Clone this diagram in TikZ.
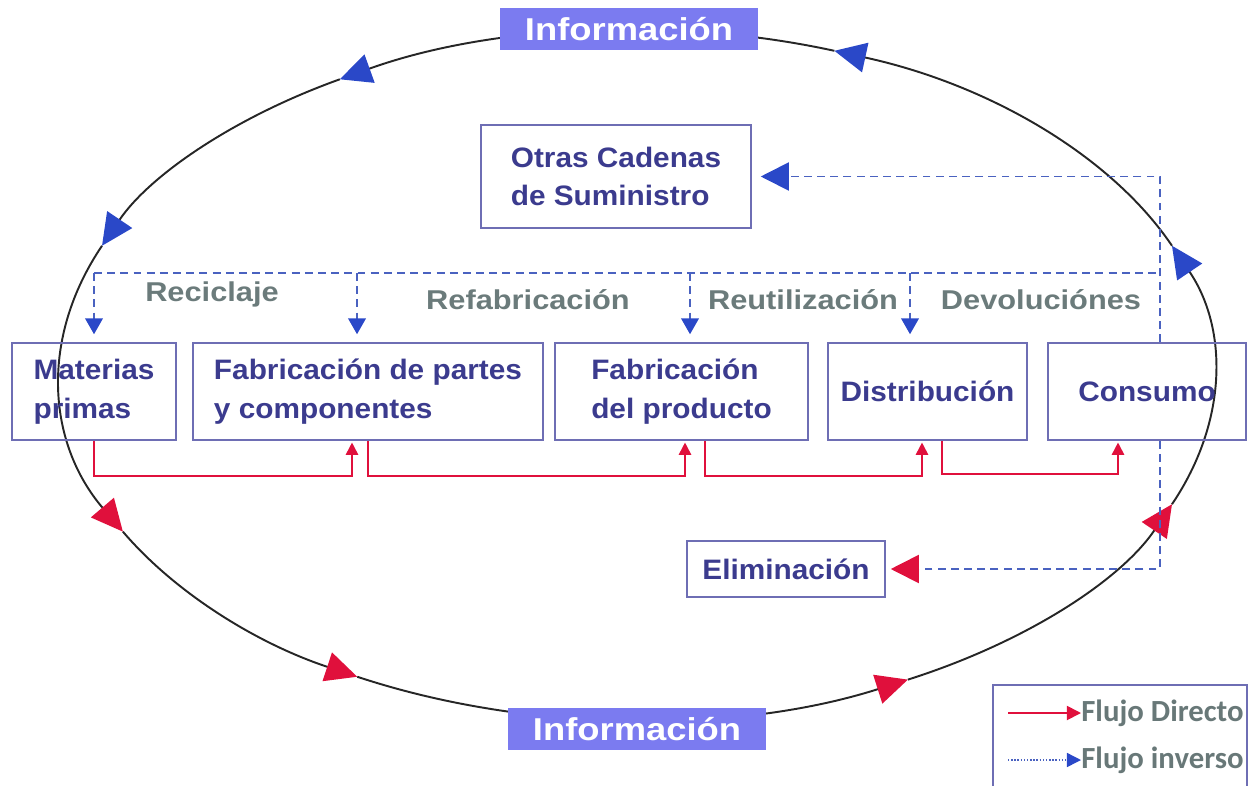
\documentclass[tikz,border=0pt]{standalone}
\usepackage{fontspec}
\setmainfont{Liberation Sans}
\newfontfamily\boxf[FakeStretch=1.06]{Liberation Sans}
\newfontfamily\infof[FakeStretch=1.15]{Liberation Sans}
\newfontfamily\labf[FakeStretch=1.13]{Liberation Sans}
\newfontfamily\legf{Carlito}
\usetikzlibrary{arrows.meta}
\definecolor{boxtext}{HTML}{3B3B8E}
\definecolor{boxline}{HTML}{6E6EB4}
\definecolor{infofill}{HTML}{7B7BF0}
\definecolor{myred}{HTML}{E0103C}
\definecolor{myblue}{HTML}{2A48C8}
\definecolor{dashblue}{HTML}{4A62C0}
\definecolor{labgray}{HTML}{6B7B7B}
\definecolor{leggray}{HTML}{687878}
\begin{document}
\begin{tikzpicture}[x=0.02cm,y=-0.02cm,
 box/.style={draw=boxline, line width=0.9pt, text=boxtext, font=\boxf\bfseries\fontsize{16}{22}\selectfont, align=left, inner sep=0pt},
 info/.style={fill=infofill, text=white, font=\infof\bfseries\fontsize{18}{20}\selectfont, minimum width=5.16cm, minimum height=0.84cm, inner sep=0pt},
 lab/.style={text=labgray, font=\labf\bfseries\fontsize{15.5}{18}\selectfont, inner sep=0pt},
 leg/.style={text=leggray, font=\legf\bfseries\fontsize{17.5}{20}\selectfont, inner sep=0pt},
 ell/.style={line width=1.1pt, draw=black!85},
 redtip/.style={-{Triangle[length=18pt,width=17pt,color=myred]}},
 bluetip/.style={-{Triangle[length=18pt,width=17pt,color=myblue]}},
 revline/.style={draw=dashblue, line width=1pt, dash pattern=on 4.5pt off 3pt},
 rev/.style={revline, -{Triangle[length=9pt,width=10pt,color=myblue]}, shorten >=0.16cm},
 dir/.style={draw=myred, line width=1pt, -{Triangle[length=7pt,width=7pt]}, shorten >=1pt}
]
\useasboundingbox (0,0) rectangle (1248,785);
% ellipse with arrows
\draw[ell, redtip] (637,375) ++(202:577 and 345) arc[start angle=202, end angle=153, x radius=577, y radius=345];
\draw[ell, redtip] (637,375) ++(153:577 and 345) arc[start angle=153, end angle=119, x radius=577, y radius=345];
\draw[ell, redtip] (637,375) ++(119:577 and 345) arc[start angle=119, end angle=62, x radius=577, y radius=345];
\draw[ell, redtip] (637,375) ++(62:577 and 345) arc[start angle=62, end angle=22, x radius=577, y radius=345];
\draw[ell, bluetip] (637,375) ++(22:577 and 345) arc[start angle=22, end angle=-22, x radius=577, y radius=345];
\draw[ell, bluetip] (637,375) ++(-22:577 and 345) arc[start angle=-22, end angle=-70, x radius=577, y radius=345];
\draw[ell, bluetip] (637,375) ++(-70:577 and 345) arc[start angle=-70, end angle=-121, x radius=577, y radius=345];
\draw[ell, bluetip] (637,375) ++(-121:577 and 345) arc[start angle=-121, end angle=-158, x radius=577, y radius=345];

\node[info] (it) at (629,29) {Información};
\node[info] (ib) at (637,729) {Información};

\node[box, minimum width=5.4cm, minimum height=2.06cm] (oc) at (616,176.5) {Otras Cadenas\\de Suministro};
\node[box, minimum width=3.28cm, minimum height=1.94cm] (mp) at (94,391.5) {Materias\\primas};
\node[box, minimum width=7.0cm, minimum height=1.94cm] (fp) at (368,391.5) {Fabricación de partes\\y componentes};
\node[box, minimum width=5.06cm, minimum height=1.94cm] (fd) at (681.5,391.5) {Fabricación\\del producto};
\node[box, minimum width=3.98cm, minimum height=1.94cm] (di) at (927.5,391.5) {Distribución};
\node[box, minimum width=3.96cm, minimum height=1.94cm] (co) at (1147,391.5) {Consumo};
\node[box, minimum width=3.96cm, minimum height=1.12cm] (el) at (786,569) {Eliminación};

\node[lab] (lre) at (212,294) {Reciclaje};
\node[lab] (lrf) at (528,300) {Refabricación};
\node[lab] (lru) at (803,300) {Reutilización};
\node[lab] (lde) at (1041,300) {Devoluciónes};

% inverse flow
\coordinate (rt) at (1160,273);
\coordinate (rl) at (94,273);
\coordinate (d1) at (357,273);
\coordinate (d2) at (690,273);
\coordinate (d3) at (910,273);
\draw[revline] (rl) -- (rt);
\draw[rev] (rl) -- (mp);
\draw[rev] (d1) -- (d1 |- fp.north);
\draw[rev] (d2) -- (d2 |- fd.north);
\draw[rev] (d3) -- (d3 |- di.north);
\draw[revline, -{Triangle[length=16pt,width=16pt,color=myblue]}, shorten >=0.18cm] (co.north -| rt) |- (oc.east);
\draw[revline, -{Triangle[length=16pt,width=16pt,color=myred]}, shorten >=0.1cm] (co.south -| rt) |- (el.east);

% direct flow
\draw[dir] (mp.south) -- ++(0,35) -| ([xshift=-0.32cm]fp.south);
\draw[dir] (fp.south) -- ++(0,35) -| ([xshift=0.07cm]fd.south);
\draw[dir] ([xshift=0.47cm]fd.south) -- ++(0,35) -| ([xshift=-0.11cm]di.south);
\draw[dir] ([xshift=0.29cm]di.south) -- ++(0,33) -| ([xshift=-0.58cm]co.south);

% legend
\draw[boxline, line width=0.9pt] (993,800) |- (1247,685) -- (1247,800);
\node[leg, anchor=west] (ld) at (1081,713) {Flujo Directo};
\node[leg, anchor=west] (li) at (1081,760) {Flujo inverso};
\coordinate (ld0) at (1008,713);
\coordinate (li0) at (1008,760);
\draw[myred, line width=1pt, -{Triangle[length=8pt,width=8pt]}] (ld0) -- (ld.west);
\draw[dashblue, densely dotted, line width=0.8pt, -{Triangle[length=8pt,width=8pt,color=myblue]}] (li0) -- (li.west);
\end{tikzpicture}
\end{document}
